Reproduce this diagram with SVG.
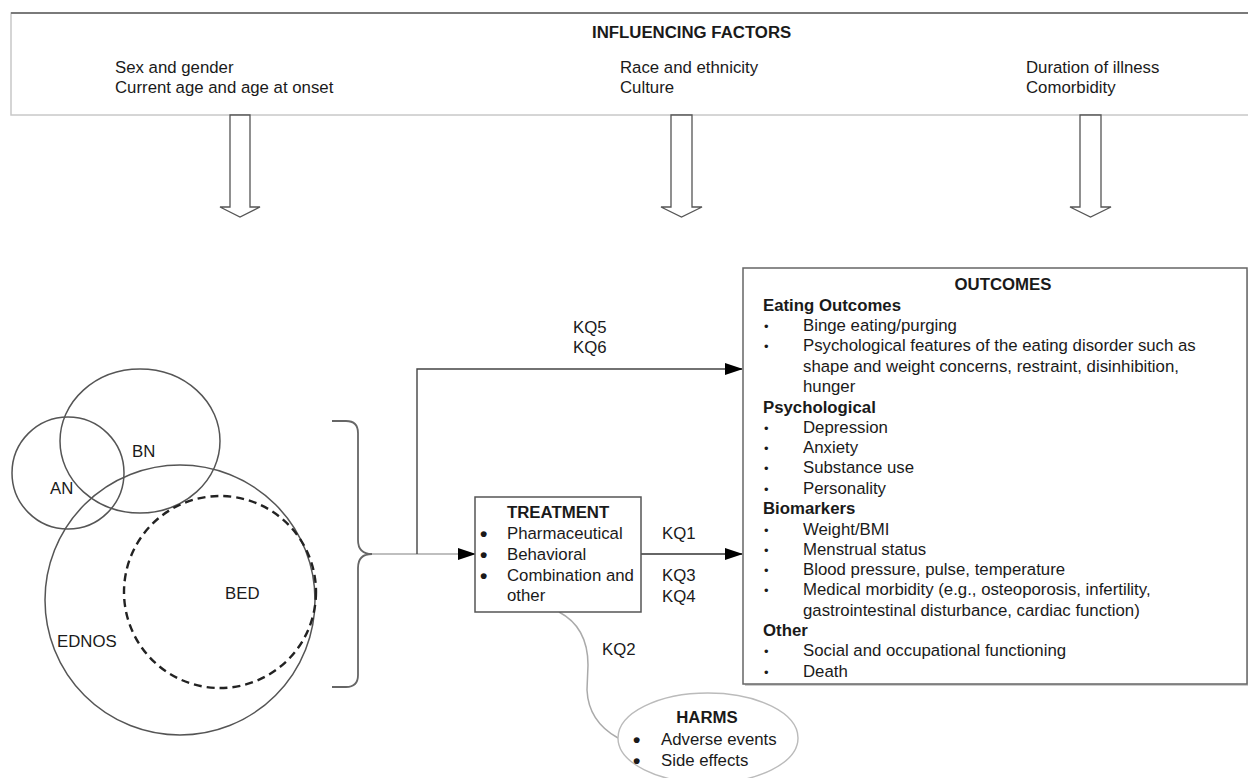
<svg xmlns="http://www.w3.org/2000/svg" width="1248" height="778" viewBox="0 0 1248 778">
<style>
text{font-family:"Liberation Sans",Arial,sans-serif;font-size:16.8px;fill:#1a1a1a}
.b{font-weight:bold}
.c{text-anchor:middle}
.sb{font-size:13px}
.bb{font-size:21px;font-weight:bold}
.blk{fill:#fff;stroke:#555;stroke-width:1.3}
.venn{fill:none;stroke:#555;stroke-width:1.5}
.con{fill:none;stroke:#333;stroke-width:1.5}
.lt{fill:none;stroke:#aaa;stroke-width:1.5}
</style>
<defs>
<marker id="ah" markerWidth="18" markerHeight="12" refX="17" refY="6" orient="auto" markerUnits="userSpaceOnUse">
<path d="M0,0 L18,6 L0,12 Z" fill="#000"/>
</marker>
</defs>
<rect width="1248" height="778" fill="#fff"/>

<g id="influencing">
<rect x="11" y="13" width="1400" height="102" fill="#fff" stroke="#c8c8c8" stroke-width="1.5"/>
<line x1="11" y1="13" x2="1248" y2="13" stroke="#7a7a7a" stroke-width="2.2"/>
<text class="b" x="592" y="38">INFLUENCING FACTORS</text>
<text x="115" y="73">Sex and gender</text>
<text x="115" y="93">Current age and age at onset</text>
<text x="620" y="73">Race and ethnicity</text>
<text x="620" y="93">Culture</text>
<text x="1026" y="73">Duration of illness</text>
<text x="1026" y="93">Comorbidity</text>
</g>

<g id="block-arrows">
<path class="blk" d="M230,115 L230,207 L220,207 L240,217 L260,207 L250,207 L250,115 Z"/>
<path class="blk" d="M671,115 L671,207 L661,207 L681.5,217 L702,207 L692,207 L692,115 Z"/>
<path class="blk" d="M1080,115 L1080,207 L1070,207 L1090.5,217 L1111,207 L1101,207 L1101,115 Z"/>
</g>

<g id="venn">
<ellipse class="venn" cx="140" cy="441" rx="80" ry="72"/>
<circle class="venn" cx="68" cy="473" r="56"/>
<circle class="venn" cx="180" cy="600" r="135"/>
<circle cx="220" cy="592" r="96" fill="none" stroke="#222" stroke-width="2.4" stroke-dasharray="8,5"/>
<text x="132" y="457">BN</text>
<text x="50" y="494">AN</text>
<text x="225" y="599">BED</text>
<text x="57" y="647">EDNOS</text>
</g>

<g id="bracket">
<path d="M332,421 L346,421 Q358,421 358,433 L358,540 Q358,554 372,554 Q358,554 358,568 L358,675 Q358,687 346,687 L332,687" fill="none" stroke="#666" stroke-width="1.8"/>
</g>

<g id="connectors">
<path class="lt" d="M372,554 L475,554" marker-end="url(#ah)"/>
<path d="M417,554 L417,369 L742,369" fill="none" stroke="#444" stroke-width="1.4" marker-end="url(#ah)"/>
<path class="con" d="M641,554 L742,554" marker-end="url(#ah)"/>
<path class="lt" d="M559,612 C578,622 588,640 588,665 L587,690 C588,712 600,728 618,738"/>
<text x="573" y="333">KQ5</text>
<text x="573" y="353">KQ6</text>
<text x="662" y="539">KQ1</text>
<text x="662" y="581">KQ3</text>
<text x="662" y="602">KQ4</text>
<text x="602" y="655">KQ2</text>
</g>

<g id="treatment">
<rect x="475" y="497" width="166" height="115" fill="#fff" stroke="#555" stroke-width="1.5"/>
<text class="b" x="507" y="518">TREATMENT</text>
<text class="bb" x="480" y="541">•</text>
<text x="507" y="539">Pharmaceutical</text>
<text class="bb" x="480" y="562">•</text>
<text x="507" y="560">Behavioral</text>
<text class="bb" x="480" y="583">•</text>
<text x="507" y="581">Combination and</text>
<text x="507" y="601">other</text>
</g>

<g id="harms">
<ellipse cx="708" cy="738" rx="90" ry="45" fill="#fff" stroke="#bbb" stroke-width="1.4"/>
<text class="b c" x="707" y="723">HARMS</text>
<text class="bb" x="633" y="747">•</text>
<text x="661" y="745">Adverse events</text>
<text class="bb" x="633" y="768">•</text>
<text x="661" y="766">Side effects</text>
</g>

<g id="outcomes">
<rect x="745" y="270" width="504" height="416" fill="#ccc"/>
<rect x="743" y="268" width="504" height="416" fill="#fff" stroke="#666" stroke-width="1.5"/>
<text class="b c" x="1003" y="290">OUTCOMES</text>
<text class="b" x="763" y="311">Eating Outcomes</text>
<text class="sb" x="764" y="331">•</text>
<text x="803" y="331">Binge eating/purging</text>
<text class="sb" x="764" y="351">•</text>
<text x="803" y="351">Psychological features of the eating disorder such as</text>
<text x="803" y="372">shape and weight concerns, restraint, disinhibition,</text>
<text x="803" y="392">hunger</text>
<text class="b" x="763" y="413">Psychological</text>
<text class="sb" x="764" y="433">•</text>
<text x="803" y="433">Depression</text>
<text class="sb" x="764" y="453">•</text>
<text x="803" y="453">Anxiety</text>
<text class="sb" x="764" y="473">•</text>
<text x="803" y="473">Substance use</text>
<text class="sb" x="764" y="494">•</text>
<text x="803" y="494">Personality</text>
<text class="b" x="763" y="514">Biomarkers</text>
<text class="sb" x="764" y="535">•</text>
<text x="803" y="535">Weight/BMI</text>
<text class="sb" x="764" y="555">•</text>
<text x="803" y="555">Menstrual status</text>
<text class="sb" x="764" y="575">•</text>
<text x="803" y="575">Blood pressure, pulse, temperature</text>
<text class="sb" x="764" y="595">•</text>
<text x="803" y="595">Medical morbidity (e.g., osteoporosis, infertility,</text>
<text x="803" y="616">gastrointestinal disturbance, cardiac function)</text>
<text class="b" x="763" y="636">Other</text>
<text class="sb" x="764" y="656">•</text>
<text x="803" y="656">Social and occupational functioning</text>
<text class="sb" x="764" y="677">•</text>
<text x="803" y="677">Death</text>
</g>
</svg>
